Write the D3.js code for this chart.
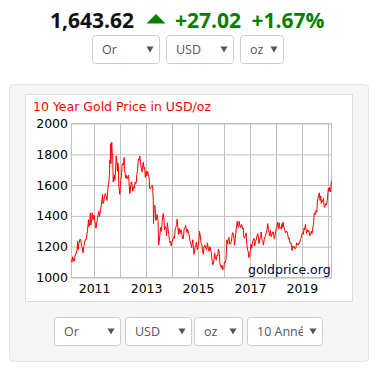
<!DOCTYPE html>
<html><head><meta charset="utf-8">
<script src="https://cdn.jsdelivr.net/npm/d3@7"></script>
<style>html,body{margin:0;padding:0;background:#fff;}svg{display:block;}</style>
</head><body>
<svg id="c" width="382" height="370"></svg>
<script>
// ---- data ----
const title = "10 Year Gold Price in USD/oz";
const headerPrice = "1,643.62";
const headerChange = "+27.02";
const headerPct = "+1.67%";
const yTicks = [1000, 1200, 1400, 1600, 1800, 2000];
const gridYears = [2011, 2012, 2013, 2014, 2015, 2016, 2017, 2018, 2019, 2020];
const labelYears = [2011, 2013, 2015, 2017, 2019];
const topSelects = ["Or", "USD", "oz"];
const bottomSelects = ["Or", "USD", "oz", "10 Années"];
const dates = [
"2010-02-17","2010-02-24","2010-03-05","2010-03-15","2010-03-25","2010-04-05","2010-04-15","2010-04-26","2010-05-05","2010-05-14","2010-05-21","2010-06-01","2010-06-18","2010-06-28","2010-07-09","2010-07-20","2010-07-28","2010-08-10","2010-08-20","2010-08-31","2010-09-10","2010-09-20","2010-09-30","2010-10-08","2010-10-14","2010-10-22","2010-11-01","2010-11-09","2010-11-17","2010-11-30","2010-12-07","2010-12-17","2010-12-31",
"2011-01-10","2011-01-20","2011-01-28","2011-02-08","2011-02-18","2011-02-28","2011-03-08","2011-03-16","2011-03-28","2011-04-06","2011-04-18","2011-04-29","2011-05-05","2011-05-16","2011-05-27","2011-06-07","2011-06-17","2011-06-30","2011-07-08","2011-07-19","2011-07-29","2011-08-08","2011-08-11","2011-08-15","2011-08-22","2011-08-25","2011-09-01","2011-09-06","2011-09-12","2011-09-20","2011-09-26","2011-10-04","2011-10-14","2011-10-21","2011-11-01","2011-11-08","2011-11-17","2011-11-25","2011-12-01","2011-12-08","2011-12-15","2011-12-29",
"2012-01-10","2012-01-20","2012-01-30","2012-02-08","2012-02-17","2012-02-28","2012-03-02","2012-03-12","2012-03-20","2012-03-30","2012-04-09","2012-04-17","2012-04-30","2012-05-08","2012-05-16","2012-05-23","2012-06-04","2012-06-13","2012-06-28","2012-07-09","2012-07-20","2012-07-31","2012-08-08","2012-08-16","2012-08-24","2012-09-04","2012-09-14","2012-09-25","2012-10-04","2012-10-15","2012-10-25","2012-11-05","2012-11-14","2012-11-23","2012-12-03","2012-12-12","2012-12-21",
"2013-01-02","2013-01-11","2013-01-23","2013-02-04","2013-02-13","2013-02-20","2013-03-04","2013-03-15","2013-03-28","2013-04-05","2013-04-12","2013-04-16","2013-04-25","2013-05-03","2013-05-10","2013-05-17","2013-05-28","2013-06-06","2013-06-18","2013-06-27","2013-07-05","2013-07-15","2013-07-25","2013-08-05","2013-08-16","2013-08-28","2013-09-09","2013-09-18","2013-09-30","2013-10-08","2013-10-15","2013-10-28","2013-11-06","2013-11-15","2013-11-27","2013-12-05","2013-12-13","2013-12-20",
"2014-01-03","2014-01-13","2014-01-24","2014-02-04","2014-02-14","2014-02-27","2014-03-07","2014-03-14","2014-03-24","2014-04-01","2014-04-11","2014-04-23","2014-05-06","2014-05-15","2014-05-30","2014-06-10","2014-06-20","2014-07-03","2014-07-10","2014-07-21","2014-08-01","2014-08-08","2014-08-20","2014-09-02","2014-09-12","2014-09-24","2014-10-03","2014-10-20","2014-10-31","2014-11-07","2014-11-20","2014-12-01","2014-12-10","2014-12-22",
"2015-01-05","2015-01-14","2015-01-22","2015-02-03","2015-02-13","2015-02-26","2015-03-06","2015-03-17","2015-03-27","2015-04-08","2015-04-21","2015-05-01","2015-05-14","2015-05-26","2015-06-05","2015-06-18","2015-06-30","2015-07-08","2015-07-20","2015-07-24","2015-08-05","2015-08-14","2015-08-24","2015-09-04","2015-09-16","2015-09-25","2015-10-05","2015-10-15","2015-10-26","2015-11-06","2015-11-18","2015-11-27","2015-12-04","2015-12-17","2015-12-31",
"2016-01-08","2016-01-20","2016-01-29","2016-02-05","2016-02-11","2016-02-22","2016-03-01","2016-03-11","2016-03-24","2016-04-04","2016-04-15","2016-04-29","2016-05-06","2016-05-18","2016-05-30","2016-06-06","2016-06-16","2016-06-24","2016-07-06","2016-07-15","2016-07-26","2016-08-02","2016-08-12","2016-08-24","2016-09-06","2016-09-19","2016-09-30","2016-10-04","2016-10-14","2016-10-28","2016-11-08","2016-11-15","2016-11-30","2016-12-08","2016-12-15","2016-12-28",
"2017-01-06","2017-01-17","2017-01-27","2017-02-07","2017-02-17","2017-02-27","2017-03-09","2017-03-20","2017-03-31","2017-04-12","2017-04-21","2017-05-02","2017-05-09","2017-05-19","2017-06-01","2017-06-07","2017-06-20","2017-06-30","2017-07-10","2017-07-20","2017-07-31","2017-08-09","2017-08-18","2017-08-30","2017-09-08","2017-09-19","2017-09-29","2017-10-06","2017-10-16","2017-10-27","2017-11-07","2017-11-17","2017-11-28","2017-12-08","2017-12-15","2017-12-29",
"2018-01-08","2018-01-17","2018-01-25","2018-02-02","2018-02-09","2018-02-16","2018-02-28","2018-03-08","2018-03-20","2018-03-27","2018-04-05","2018-04-11","2018-04-24","2018-05-04","2018-05-15","2018-05-25","2018-06-06","2018-06-15","2018-06-28","2018-07-10","2018-07-19","2018-07-31","2018-08-10","2018-08-16","2018-08-28","2018-09-07","2018-09-17","2018-09-28","2018-10-09","2018-10-19","2018-10-31","2018-11-09","2018-11-21","2018-11-30","2018-12-10","2018-12-20","2018-12-31",
"2019-01-10","2019-01-21","2019-01-31","2019-02-08","2019-02-20","2019-02-28","2019-03-07","2019-03-20","2019-03-29","2019-04-10","2019-04-23","2019-05-03","2019-05-14","2019-05-24","2019-06-04","2019-06-14","2019-06-25","2019-07-03","2019-07-12","2019-07-19","2019-07-31","2019-08-07","2019-08-13","2019-08-23","2019-09-04","2019-09-13","2019-09-24","2019-10-01","2019-10-10","2019-10-21","2019-11-01","2019-11-12","2019-11-22","2019-12-03","2019-12-13","2019-12-24",
"2020-01-03","2020-01-08","2020-01-17","2020-01-28","2020-02-04","2020-02-12","2020-02-19","2020-02-21"
];
const prices = [
1115,1100,1135,1120,1105,1130,1155,1155,1180,1235,1180,1220,1250,1240,1200,1190,1160,1200,1230,1245,1245,1275,1305,1345,1375,1330,1355,1420,1340,1385,1420,1375,1405,
1370,1345,1320,1360,1385,1410,1430,1395,1420,1455,1490,1540,1480,1490,1530,1545,1535,1500,1540,1600,1620,1710,1760,1740,1870,1740,1830,1880,1810,1790,1620,1650,1665,1630,1720,1790,1745,1690,1745,1725,1590,1540,
1630,1660,1730,1740,1730,1780,1700,1680,1645,1665,1640,1650,1665,1600,1545,1560,1620,1620,1560,1590,1580,1620,1610,1615,1670,1695,1770,1760,1790,1745,1710,1685,1725,1750,1705,1715,1650,
1690,1660,1690,1670,1645,1580,1575,1590,1600,1575,1500,1350,1460,1470,1450,1370,1380,1410,1370,1210,1235,1280,1325,1300,1370,1415,1385,1310,1330,1320,1270,1355,1315,1285,1240,1225,1235,1205,
1235,1250,1265,1255,1315,1330,1345,1380,1330,1280,1320,1285,1310,1295,1250,1255,1315,1320,1340,1310,1290,1315,1290,1265,1235,1220,1195,1245,1175,1150,1195,1210,1230,1180,
1205,1240,1300,1270,1225,1210,1175,1150,1200,1210,1190,1180,1225,1190,1170,1200,1175,1160,1105,1085,1085,1115,1160,1120,1115,1145,1140,1185,1165,1090,1070,1060,1080,1050,1060,
1100,1095,1115,1160,1245,1215,1240,1260,1215,1220,1235,1290,1290,1270,1210,1245,1290,1320,1365,1330,1325,1365,1340,1325,1345,1315,1320,1270,1255,1270,1290,1225,1175,1170,1130,1140,
1175,1215,1190,1235,1240,1255,1205,1235,1245,1275,1285,1255,1220,1250,1265,1295,1245,1240,1210,1245,1265,1275,1290,1310,1350,1310,1285,1270,1305,1265,1280,1295,1295,1250,1255,1300,
1320,1335,1360,1330,1315,1355,1320,1320,1315,1350,1325,1360,1325,1310,1290,1300,1300,1280,1250,1255,1220,1225,1210,1175,1205,1195,1200,1185,1190,1225,1215,1210,1225,1220,1245,1255,1280,
1290,1280,1320,1310,1345,1315,1285,1310,1295,1305,1270,1280,1300,1285,1325,1345,1420,1420,1410,1435,1425,1495,1510,1530,1550,1500,1530,1480,1500,1490,1515,1455,1465,1480,1470,1500,
1550,1580,1560,1585,1555,1570,1610,1625
];

// ---- drawing ----
const svg = d3.select("#c");
const parse = d3.timeParse("%Y-%m-%d");
const series = dates.map((d, i) => ({date: parse(d), value: prices[i]}));

// header
const hdr = svg.append("g").attr("font-family", "'Open Sans', sans-serif").attr("font-weight", "bold").attr("font-size", 21);
hdr.append("text").attr("x", 50).attr("y", 27.5).attr("fill", "#111").text(headerPrice);
hdr.append("path").attr("d", "M146.5,23.5L165.5,23.5L156,14Z").attr("fill", "#008000");
hdr.append("text").attr("x", 175).attr("y", 27.5).attr("fill", "#008000").text(headerChange);
hdr.append("text").attr("x", 251.5).attr("y", 27.5).attr("fill", "#008000").text(headerPct);

function drawSelects(g, labels, xs, y0, h) {
  labels.forEach((lab, i) => {
    const [x0, x1] = xs[i];
    const gg = g.append("g");
    gg.append("rect").attr("x", x0 + 0.5).attr("y", y0 + 0.5).attr("width", x1 - x0 - 1).attr("height", h - 1)
      .attr("rx", 3).attr("fill", "#fff").attr("stroke", "#cccccc");
    const cid = "clip" + y0 + "_" + i;
    gg.append("clipPath").attr("id", cid).append("rect").attr("x", x0).attr("y", y0).attr("width", x1 - x0 - 20).attr("height", h);
    gg.append("text").attr("x", x0 + 10).attr("y", y0 + h / 2 + 4.5).attr("clip-path", `url(#${cid})`)
      .attr("font-family", "'Open Sans', sans-serif").attr("font-size", 12.5).attr("fill", "#555").text(lab);
    const ax = x1 - 10, ay = y0 + h / 2;
    gg.append("path").attr("d", `M${ax - 3.5},${ay - 3}L${ax + 3.5},${ay - 3}L${ax},${ay + 3}Z`).attr("fill", "#555");
  });
}
drawSelects(svg.append("g"), topSelects, [[92, 160], [166, 234], [240, 284]], 35, 29);

// panel
svg.append("rect").attr("x", 9.5).attr("y", 84.5).attr("width", 359).attr("height", 277).attr("rx", 4)
  .attr("fill", "#f5f5f5").attr("stroke", "#e3e3e3");
svg.append("rect").attr("x", 25.5).attr("y", 94.5).attr("width", 327).attr("height", 207)
  .attr("fill", "#fff").attr("stroke", "#dddddd");

drawSelects(svg.append("g"), bottomSelects, [[54, 121], [125, 192], [194, 243], [247, 323]], 317, 29);

// chart
svg.append("text").attr("x", 33).attr("y", 111).attr("font-family", "'DejaVu Sans', Verdana, sans-serif")
  .attr("font-size", 12.5).attr("fill", "#ff0000").text(title);

const x = d3.scaleTime().domain([new Date(2010, 1, 17), new Date(2020, 1, 22)]).range([71.5, 331.5]);
const y = d3.scaleLinear().domain([1000, 2000]).range([277.5, 123.5]);
const grid = "#c0c0c0";
const chart = svg.append("g");

// horizontal grid + y labels
const yAxis = chart.append("g").attr("transform", "translate(71.5,0)")
  .call(d3.axisLeft(y).tickValues(yTicks).tickSize(-(x.range()[1] - x.range()[0])).tickPadding(3.5).tickFormat(d3.format("d")));
yAxis.select(".domain").remove();
yAxis.selectAll("line").attr("stroke", grid);
yAxis.selectAll("text").attr("font-family", "'DejaVu Sans', Verdana, sans-serif").attr("font-size", 12.5).attr("fill", "#000");

// vertical grid
chart.append("g").selectAll("line").data(gridYears.map(yr => new Date(yr, 0, 1))).join("line")
  .attr("x1", d => Math.round(x(d)) + 0.5).attr("x2", d => Math.round(x(d)) + 0.5)
  .attr("y1", y(2000)).attr("y2", y(1000)).attr("stroke", grid);
// frame
chart.append("rect").attr("x", x.range()[0]).attr("y", y(2000)).attr("width", x.range()[1] - x.range()[0])
  .attr("height", y(1000) - y(2000)).attr("fill", "none").attr("stroke", grid);

// x labels
const xAxis = chart.append("g").attr("transform", `translate(0,${y(1000)})`)
  .call(d3.axisBottom(x).tickValues(labelYears.map(yr => new Date(yr, 0, 1))).tickSize(0).tickPadding(6.5).tickFormat(d3.timeFormat("%Y")));
xAxis.select(".domain").remove();
xAxis.selectAll("text").attr("font-family", "'DejaVu Sans', Verdana, sans-serif").attr("font-size", 12.5).attr("fill", "#000");

// line
chart.append("path").datum(series).attr("fill", "none").attr("stroke", "#ff0000").attr("stroke-width", 1)
  .attr("stroke-linejoin", "round")
  .attr("d", d3.line().x(d => x(d.date)).y(d => y(d.value)));

// watermark
chart.append("text").attr("x", 248).attr("y", 274).attr("font-family", "'DejaVu Sans', Verdana, sans-serif")
  .attr("font-size", 12.5).attr("fill", "#000040").text("goldprice.org");
</script>
</body></html>
